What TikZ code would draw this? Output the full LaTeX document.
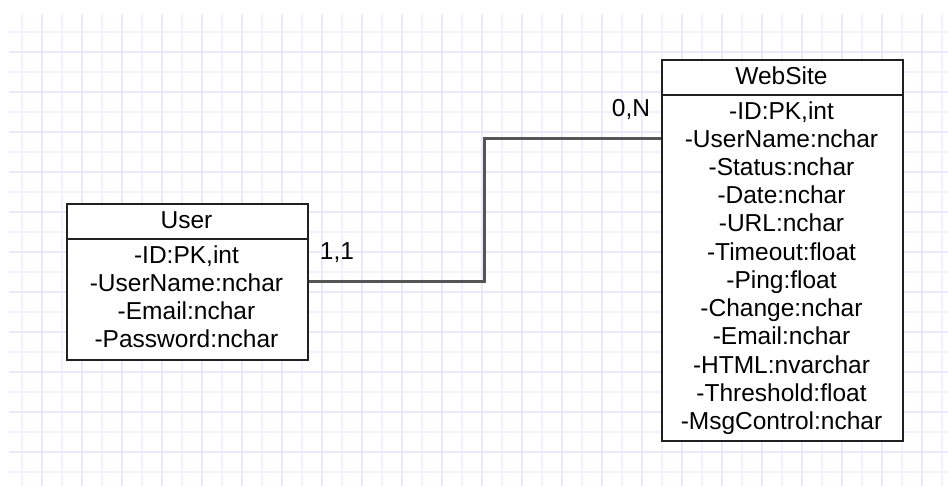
\documentclass[tikz,border=0pt]{standalone}
\usepackage{fontspec}
\setmainfont{Liberation Sans}
\definecolor{gridminor}{HTML}{F2F2FE}
\definecolor{gridmajor}{HTML}{E9E9FB}
\definecolor{connc}{HTML}{555555}
\definecolor{boxc}{HTML}{202020}
\tikzset{
  entity/.style={draw=boxc, line width=1.8pt, fill=white, anchor=north west, inner sep=0pt},
  attr/.style={inner sep=0pt, text height=17.5pt, text depth=0pt, font=\fontsize{24.5}{28}\selectfont, text=black},
  card/.style={inner sep=0pt, text height=17.5pt, text depth=0pt, font=\fontsize{24.5}{28}\selectfont, text=black},
  conn/.style={draw=connc, line width=3pt},
  gminor/.style={draw=gridminor, line width=1.2pt},
  gmajor/.style={draw=gridmajor, line width=1.2pt},
}
\begin{document}
\begin{tikzpicture}[x=1pt,y=-1pt]
\useasboundingbox (0,0) rectangle (948,486);
\fill[white] (0,0) rectangle (948,486);
% grid
\foreach \x in {22,62,...,942} { \draw[gminor] (\x,14) -- (\x,486); }
\foreach \y in {32,72,...,472} { \draw[gminor] (9,\y) -- (948,\y); }
\foreach \x in {42,82,...,942} { \draw[gmajor] (\x,14) -- (\x,486); }
\foreach \y in {52,92,...,472} { \draw[gmajor] (9,\y) -- (948,\y); }
% User entity
\node[entity, minimum width=241pt, minimum height=156pt] (user) at (66,203) {};
\draw[boxc, line width=1.8pt] (66,239) -- (307,239);
\node[attr] (uTitle) at (186.5,220) {User};
\node[attr] (uID) at (186.5,255) {-ID:PK,int};
\node[attr] (uUserName) at (186.5,283) {-UserName:nchar};
\node[attr] (uEmail) at (186.5,311) {-Email:nchar};
\node[attr] (uPassword) at (186.5,339) {-Password:nchar};
% WebSite entity
\node[entity, minimum width=241pt, minimum height=381pt] (web) at (661,59) {};
\draw[boxc, line width=1.8pt] (661,95) -- (902,95);
\node[attr] (wTitle) at (781.5,76) {WebSite};
\node[attr] (wID) at (781.5,111) {-ID:PK,int};
\node[attr] (wUserName) at (781.5,139) {-UserName:nchar};
\node[attr] (wStatus) at (781.5,167) {-Status:nchar};
\node[attr] (wDate) at (781.5,195) {-Date:nchar};
\node[attr] (wURL) at (781.5,223) {-URL:nchar};
\node[attr] (wTimeout) at (781.5,252) {-Timeout:float};
\node[attr] (wPing) at (781.5,280) {-Ping:float};
\node[attr] (wChange) at (781.5,308) {-Change:nchar};
\node[attr] (wEmail) at (781.5,336) {-Email:nchar};
\node[attr] (wHTML) at (781.5,365) {-HTML:nvarchar};
\node[attr] (wThreshold) at (781.5,393) {-Threshold:float};
\node[attr] (wMsgControl) at (781.5,421) {-MsgControl:nchar};
% connector
\coordinate (bend) at (484,0);
\draw[conn] (user.east) -- (user.east -| bend) |- (web.west |- wUserName);
% cardinalities
\node[card] (c11) at (337,251) {1,1};
\node[card] (c0N) at (631,108) {0,N};
\end{tikzpicture}
\end{document}
